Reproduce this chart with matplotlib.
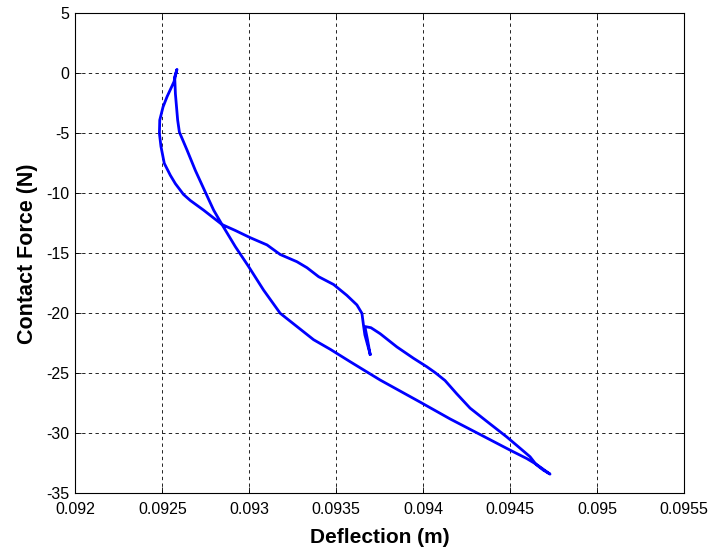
import matplotlib
matplotlib.use("Agg")
import matplotlib.pyplot as plt

plt.rcParams['font.family'] = ['Liberation Sans', 'DejaVu Sans']
plt.rcParams['axes.unicode_minus'] = False

# Deflection (m) and contact force (N)
deflection = [0.093695, 0.093680, 0.093665, 0.093700, 0.093753, 0.093849, 0.093945,
              0.094021, 0.094070, 0.094126, 0.094193, 0.094270, 0.094366, 0.094481,
              0.094538, 0.094615, 0.094650, 0.094691, 0.094730,
              0.094653, 0.094596, 0.094500, 0.094328, 0.094155, 0.093983, 0.093753,
              0.093580, 0.093466, 0.093370, 0.093274, 0.093178, 0.093082, 0.092996,
              0.092920, 0.092843, 0.092795, 0.092747, 0.092690, 0.092642, 0.092598,
              0.092588, 0.092575, 0.092571, 0.092584,
              0.092567, 0.092527, 0.092504, 0.092485, 0.092483, 0.092492, 0.092511,
              0.092546, 0.092575, 0.092622, 0.092661, 0.092737, 0.092843, 0.092920,
              0.093006, 0.093102, 0.093178, 0.093274, 0.093332, 0.093399, 0.093485,
              0.093561, 0.093619, 0.093648, 0.093657, 0.093665, 0.093680, 0.093695]
force = [-23.4, -22.2, -21.1, -21.2, -21.7, -22.8, -23.75,
         -24.45, -24.95, -25.6, -26.7, -27.9, -29.0, -30.3,
         -31.0, -31.95, -32.6, -33.06, -33.4,
         -32.6, -32.1, -31.4, -30.1, -28.8, -27.4, -25.56,
         -24.03, -23.0, -22.2, -21.1, -20.0, -18.06, -16.1,
         -14.45, -12.6, -11.4, -9.9, -8.1, -6.4, -4.9,
         -3.9, -1.7, -0.3, 0.33,
         -0.7, -1.95, -2.8, -3.9, -5.0, -6.1, -7.5,
         -8.5, -9.2, -10.1, -10.6, -11.4, -12.6, -13.1,
         -13.7, -14.3, -15.1, -15.7, -16.2, -16.95, -17.6,
         -18.5, -19.3, -20.0, -21.0, -21.8, -22.6, -23.4]

xticks = [0.092, 0.0925, 0.093, 0.0935, 0.094, 0.0945, 0.095, 0.0955]
xtick_labels = ['0.092', '0.0925', '0.093', '0.0935', '0.094', '0.0945', '0.095', '0.0955']
yticks = [-35, -30, -25, -20, -15, -10, -5, 0, 5]

fig = plt.figure(figsize=(7.15, 5.52), dpi=100)
ax = fig.add_axes([0.1055, 0.1063, 0.851, 0.8696])
ax.plot(deflection, force, color='#0000ff', lw=2.0, solid_joinstyle='round')

ax.set_xlim(0.092, 0.0955)
ax.set_ylim(-35, 5)
ax.set_xticks(xticks)
ax.set_xticklabels(xtick_labels)
ax.set_yticks(yticks)
ax.set_yticklabels([str(v) for v in yticks])
ax.grid(True, color='black', linestyle=(0, (4, 4)), lw=0.6)
ax.tick_params(direction='in', top=True, right=True, labelsize=11.5, length=4, width=0.6)
ax.tick_params(axis='x', pad=6)
ax.tick_params(axis='y', pad=4.5)
for s in ax.spines.values():
    s.set_linewidth(0.8)
ax.set_xlabel('Deflection (m)', fontsize=15, fontweight='bold', labelpad=8)
ax.set_ylabel('Contact Force (N)', fontsize=15.5, fontweight='bold', labelpad=6)

fig.savefig('out.png', dpi=100)
